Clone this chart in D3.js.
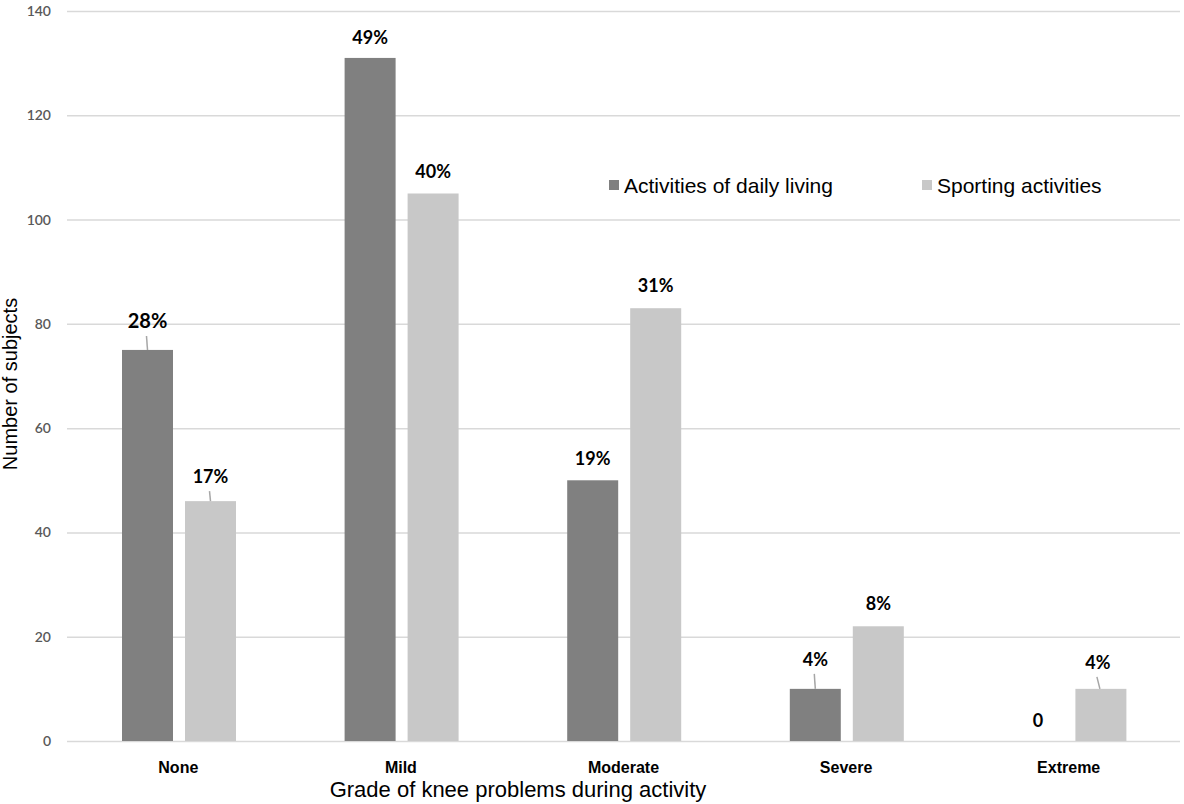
<!DOCTYPE html>
<html>
<head>
<meta charset="utf-8">
<script src="https://cdn.jsdelivr.net/npm/d3@7"></script>
<style>
  html, body { margin: 0; padding: 0; background: #fff; }
  svg { display: block; }
</style>
</head>
<body>
<svg id="chart" width="1184" height="804"></svg>
<script>
// ---- Data ----
const categories = ["None", "Mild", "Moderate", "Severe", "Extreme"];
const seriesNames = ["Activities of daily living", "Sporting activities"];
const dailyLiving = [75, 131, 50, 10, 0];
const sporting = [46, 105, 83, 22, 10];
const dailyLabels = ["28%", "49%", "19%", "4%", "0"];
const sportLabels = ["17%", "40%", "31%", "8%", "4%"];
const yTicks = [0, 20, 40, 60, 80, 100, 120, 140];

// ---- Label layout (styling, not data) ----
const dailyLabelGap = [22, 14, 15, 23, 14];
const sportLabelGap = [18, 16, 16, 16, 20];
const dailyLeader = [true, false, false, true, false];
const sportLeader = [true, false, false, false, true];
const dailyLabelSize = [20, 18, 18, 18, 18];
const sportLabelSize = [18, 18, 18, 18, 18];
const sportLabelDx = [0, 0, 0, 0, -3];

const colors = ["#808080", "#c8c8c8"];

const svg = d3.select("#chart");
const plot = { left: 67, right: 1180, top: 11, bottom: 741 };

const x0 = d3.scaleBand().domain(categories).range([plot.left, plot.right]).padding(0);
const x1 = d3.scaleBand().domain(seriesNames).range([55, 169]).paddingInner(12 / 63).paddingOuter(0);
const y = d3.scaleLinear().domain([0, 140]).range([plot.bottom, plot.top]);

// Gridlines + y tick labels
const yAxis = d3.axisLeft(y).tickValues(yTicks).tickSize(-(plot.right - plot.left)).tickPadding(16).tickFormat(d3.format("d"));
const gy = svg.append("g").attr("transform", `translate(${plot.left},0)`).call(yAxis);
gy.select(".domain").remove();
gy.selectAll(".tick line").attr("stroke", "#d9d9d9").attr("stroke-width", 1.5);
gy.selectAll(".tick text")
  .attr("fill", "#595959")
  .style("font-family", "Lato, 'Open Sans', sans-serif")
  .style("font-size", "14px")
  .style("font-weight", "600");

// Bars
const rows = categories.map((c, i) => ({
  cat: c,
  vals: [
    { s: seriesNames[0], v: dailyLiving[i], lab: dailyLabels[i], gap: dailyLabelGap[i], lead: dailyLeader[i], size: dailyLabelSize[i], dx: 0 },
    { s: seriesNames[1], v: sporting[i], lab: sportLabels[i], gap: sportLabelGap[i], lead: sportLeader[i], size: sportLabelSize[i], dx: sportLabelDx[i] }
  ]
}));

const groups = svg.append("g").selectAll("g").data(rows).join("g")
  .attr("transform", d => `translate(${x0(d.cat)},0)`);

groups.selectAll("rect").data(d => d.vals).join("rect")
  .attr("x", d => x1(d.s))
  .attr("width", x1.bandwidth())
  .attr("y", d => y(d.v))
  .attr("height", d => y(0) - y(d.v))
  .attr("fill", (d, i) => colors[i]);

// Leader lines
groups.selectAll("line.leader").data(d => d.vals.filter(v => v.lead)).join("line")
  .attr("class", "leader")
  .attr("x1", d => x1(d.s) + x1.bandwidth() / 2 + d.dx - 1)
  .attr("x2", d => x1(d.s) + x1.bandwidth() / 2 + (d.dx ? d.dx + 2 : 0))
  .attr("y1", d => y(d.v) - d.gap + 8)
  .attr("y2", d => y(d.v))
  .attr("stroke", "#a6a6a6")
  .attr("stroke-width", 1.5);

// Value labels
groups.selectAll("text.val").data(d => d.vals).join("text")
  .attr("class", "val")
  .attr("x", d => x1(d.s) + x1.bandwidth() / 2 + d.dx)
  .attr("y", d => y(d.v) - d.gap)
  .attr("text-anchor", "middle")
  .style("font-family", "Lato, 'Open Sans', sans-serif")
  .style("font-weight", "700")
  .style("font-size", d => d.size + "px")
  .attr("fill", "#000")
  .text(d => d.lab);

// X axis category labels
const xAxis = d3.axisBottom(x0).tickSize(0).tickPadding(21);
const gx = svg.append("g").attr("transform", `translate(0,${plot.bottom})`).call(xAxis);
gx.select(".domain").remove();
gx.selectAll(".tick text")
  .attr("fill", "#000")
  .style("font-family", "'Liberation Sans', Arial, sans-serif")
  .style("font-size", "16px")
  .style("font-weight", "700");

// Axis titles
svg.append("text")
  .attr("x", 518).attr("y", 797)
  .attr("text-anchor", "middle")
  .style("font-family", "'Liberation Sans', Arial, sans-serif")
  .style("font-size", "22px")
  .attr("fill", "#000")
  .text("Grade of knee problems during activity");

svg.append("text")
  .attr("transform", "translate(17,384) rotate(-90)")
  .attr("text-anchor", "middle")
  .style("font-family", "'Liberation Sans', Arial, sans-serif")
  .style("font-size", "20px")
  .attr("fill", "#000")
  .text("Number of subjects");

// Legend
const legendX = [609, 922];
const legend = svg.append("g").selectAll("g").data(seriesNames).join("g")
  .attr("transform", (d, i) => `translate(${legendX[i]},180)`);
legend.append("rect").attr("width", 10).attr("height", 10).attr("fill", (d, i) => colors[i]);
legend.append("text")
  .attr("x", 15).attr("y", 13)
  .style("font-family", "'Liberation Sans', Arial, sans-serif")
  .style("font-size", "21px")
  .attr("fill", "#000")
  .text(d => d);
</script>
</body>
</html>
